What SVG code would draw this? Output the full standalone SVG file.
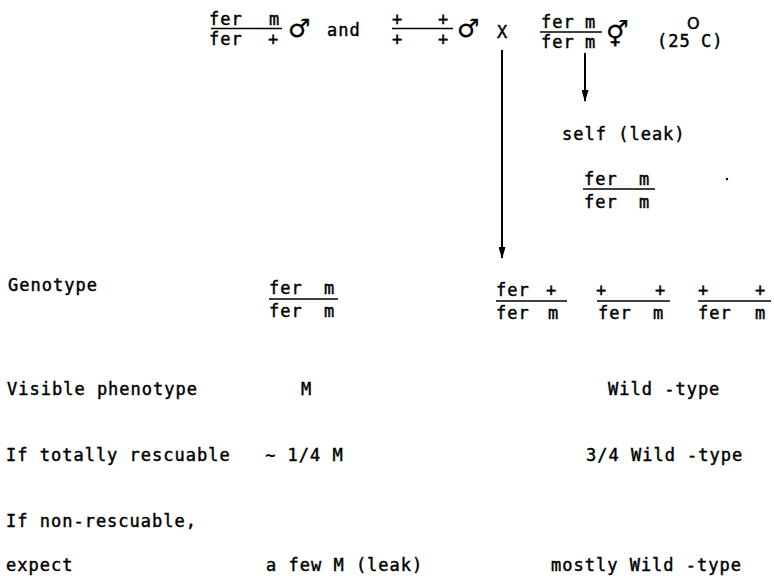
<svg xmlns="http://www.w3.org/2000/svg" width="774" height="586" viewBox="0 0 774 586">
<style>
text{font-family:"DejaVu Sans Mono","Liberation Mono",monospace;font-size:17px;letter-spacing:1px;fill:#000;stroke:#000;stroke-width:0.45}
.sym{font-family:"DejaVu Sans",sans-serif;font-weight:bold;font-size:25px;letter-spacing:0;stroke-width:0.3}
.sup{font-family:"DejaVu Sans",sans-serif;font-size:16px;letter-spacing:0}
.bar{stroke:#000;stroke-width:1.6}
.arr{stroke:#000;stroke-width:2;fill:none;marker-end:url(#ah)}
</style>
<defs>
<marker id="ah" viewBox="0 0 12 7" refX="11" refY="3.5" markerWidth="12" markerHeight="7" markerUnits="userSpaceOnUse" orient="auto">
<path d="M0,0 L12,3.5 L0,7 Z" fill="#000"/>
</marker>
</defs>
<rect width="774" height="586" fill="#fff"/>

<g id="connectors">
<line class="arr" x1="502" y1="50" x2="502" y2="258"/>
<line class="arr" x1="585" y1="53" x2="585" y2="101"/>
</g>

<g id="parent-male-1">
<text x="209" y="25">fer <tspan x="269">m</tspan></text>
<line class="bar" x1="211" y1="28.5" x2="282" y2="28.5"/>
<text x="209" y="45">fer <tspan x="268">+</tspan></text>
<text class="sym" x="288" y="37">♂</text>
</g>
<g id="and-label"><text x="327" y="36">and</text></g>
<g id="parent-male-2">
<text x="392" y="25">+ <tspan x="438">+</tspan></text>
<line class="bar" x1="392" y1="28.5" x2="453" y2="28.5"/>
<text x="392" y="45">+ <tspan x="438">+</tspan></text>
<text class="sym" x="457" y="37">♂</text>
</g>
<g id="cross-x"><text x="497" y="38">X</text></g>
<g id="parent-herm">
<text x="541" y="28">fer <tspan x="585">m</tspan></text>
<line class="bar" x1="540" y1="32" x2="602" y2="32"/>
<text x="541" y="48">fer <tspan x="585">m</tspan></text>
<text class="sym" x="606" y="43">⚥</text>
</g>
<g id="temperature"><text x="657" y="47">(25<tspan class="sup" x="687" y="29">O</tspan><tspan x="701" y="47">C)</tspan></text></g>

<g id="self-progeny">
<text x="562" y="140">self (leak)</text>
<text x="584" y="185">fer <tspan x="639">m</tspan></text>
<line class="bar" x1="583" y1="189" x2="655" y2="189"/>
<text x="584" y="208">fer <tspan x="639">m</tspan></text>
</g>
<circle cx="727" cy="179" r="1.2" fill="#000"/>

<g id="row-genotype">
<text x="8" y="291">Genotype</text>
<g id="geno-m">
<text x="269" y="294">fer <tspan x="324">m</tspan></text>
<line class="bar" x1="269" y1="299" x2="338" y2="299"/>
<text x="269" y="317">fer <tspan x="324">m</tspan></text>
</g>
<g id="geno-wt1">
<text x="496" y="296">fer <tspan x="546">+</tspan></text>
<line class="bar" x1="496" y1="301" x2="567" y2="301"/>
<text x="496" y="319">fer <tspan x="548">m</tspan></text>
</g>
<g id="geno-wt2">
<text x="596" y="296">+ <tspan x="655">+</tspan></text>
<line class="bar" x1="597" y1="301" x2="670" y2="301"/>
<text x="598" y="319">fer <tspan x="653">m</tspan></text>
</g>
<g id="geno-wt3">
<text x="698" y="296">+ <tspan x="755">+</tspan></text>
<line class="bar" x1="698" y1="301" x2="771" y2="301"/>
<text x="698" y="319">fer <tspan x="755">m</tspan></text>
</g>
</g>

<g id="row-visible">
<text x="7" y="395">Visible phenotype</text>
<text x="301" y="395">M</text>
<text x="608" y="395">Wild -type</text>
</g>
<g id="row-rescuable">
<text x="6" y="461">If totally rescuable</text>
<text x="265" y="461">∼ 1/4 M</text>
<text x="586" y="461">3/4 Wild -type</text>
</g>
<g id="row-nonrescuable">
<text x="6" y="527">If non-rescuable,</text>
<text x="6" y="571">expect</text>
<text x="266" y="571">a few M (leak)</text>
<text x="551" y="571">mostly Wild -type</text>
</g>
</svg>
